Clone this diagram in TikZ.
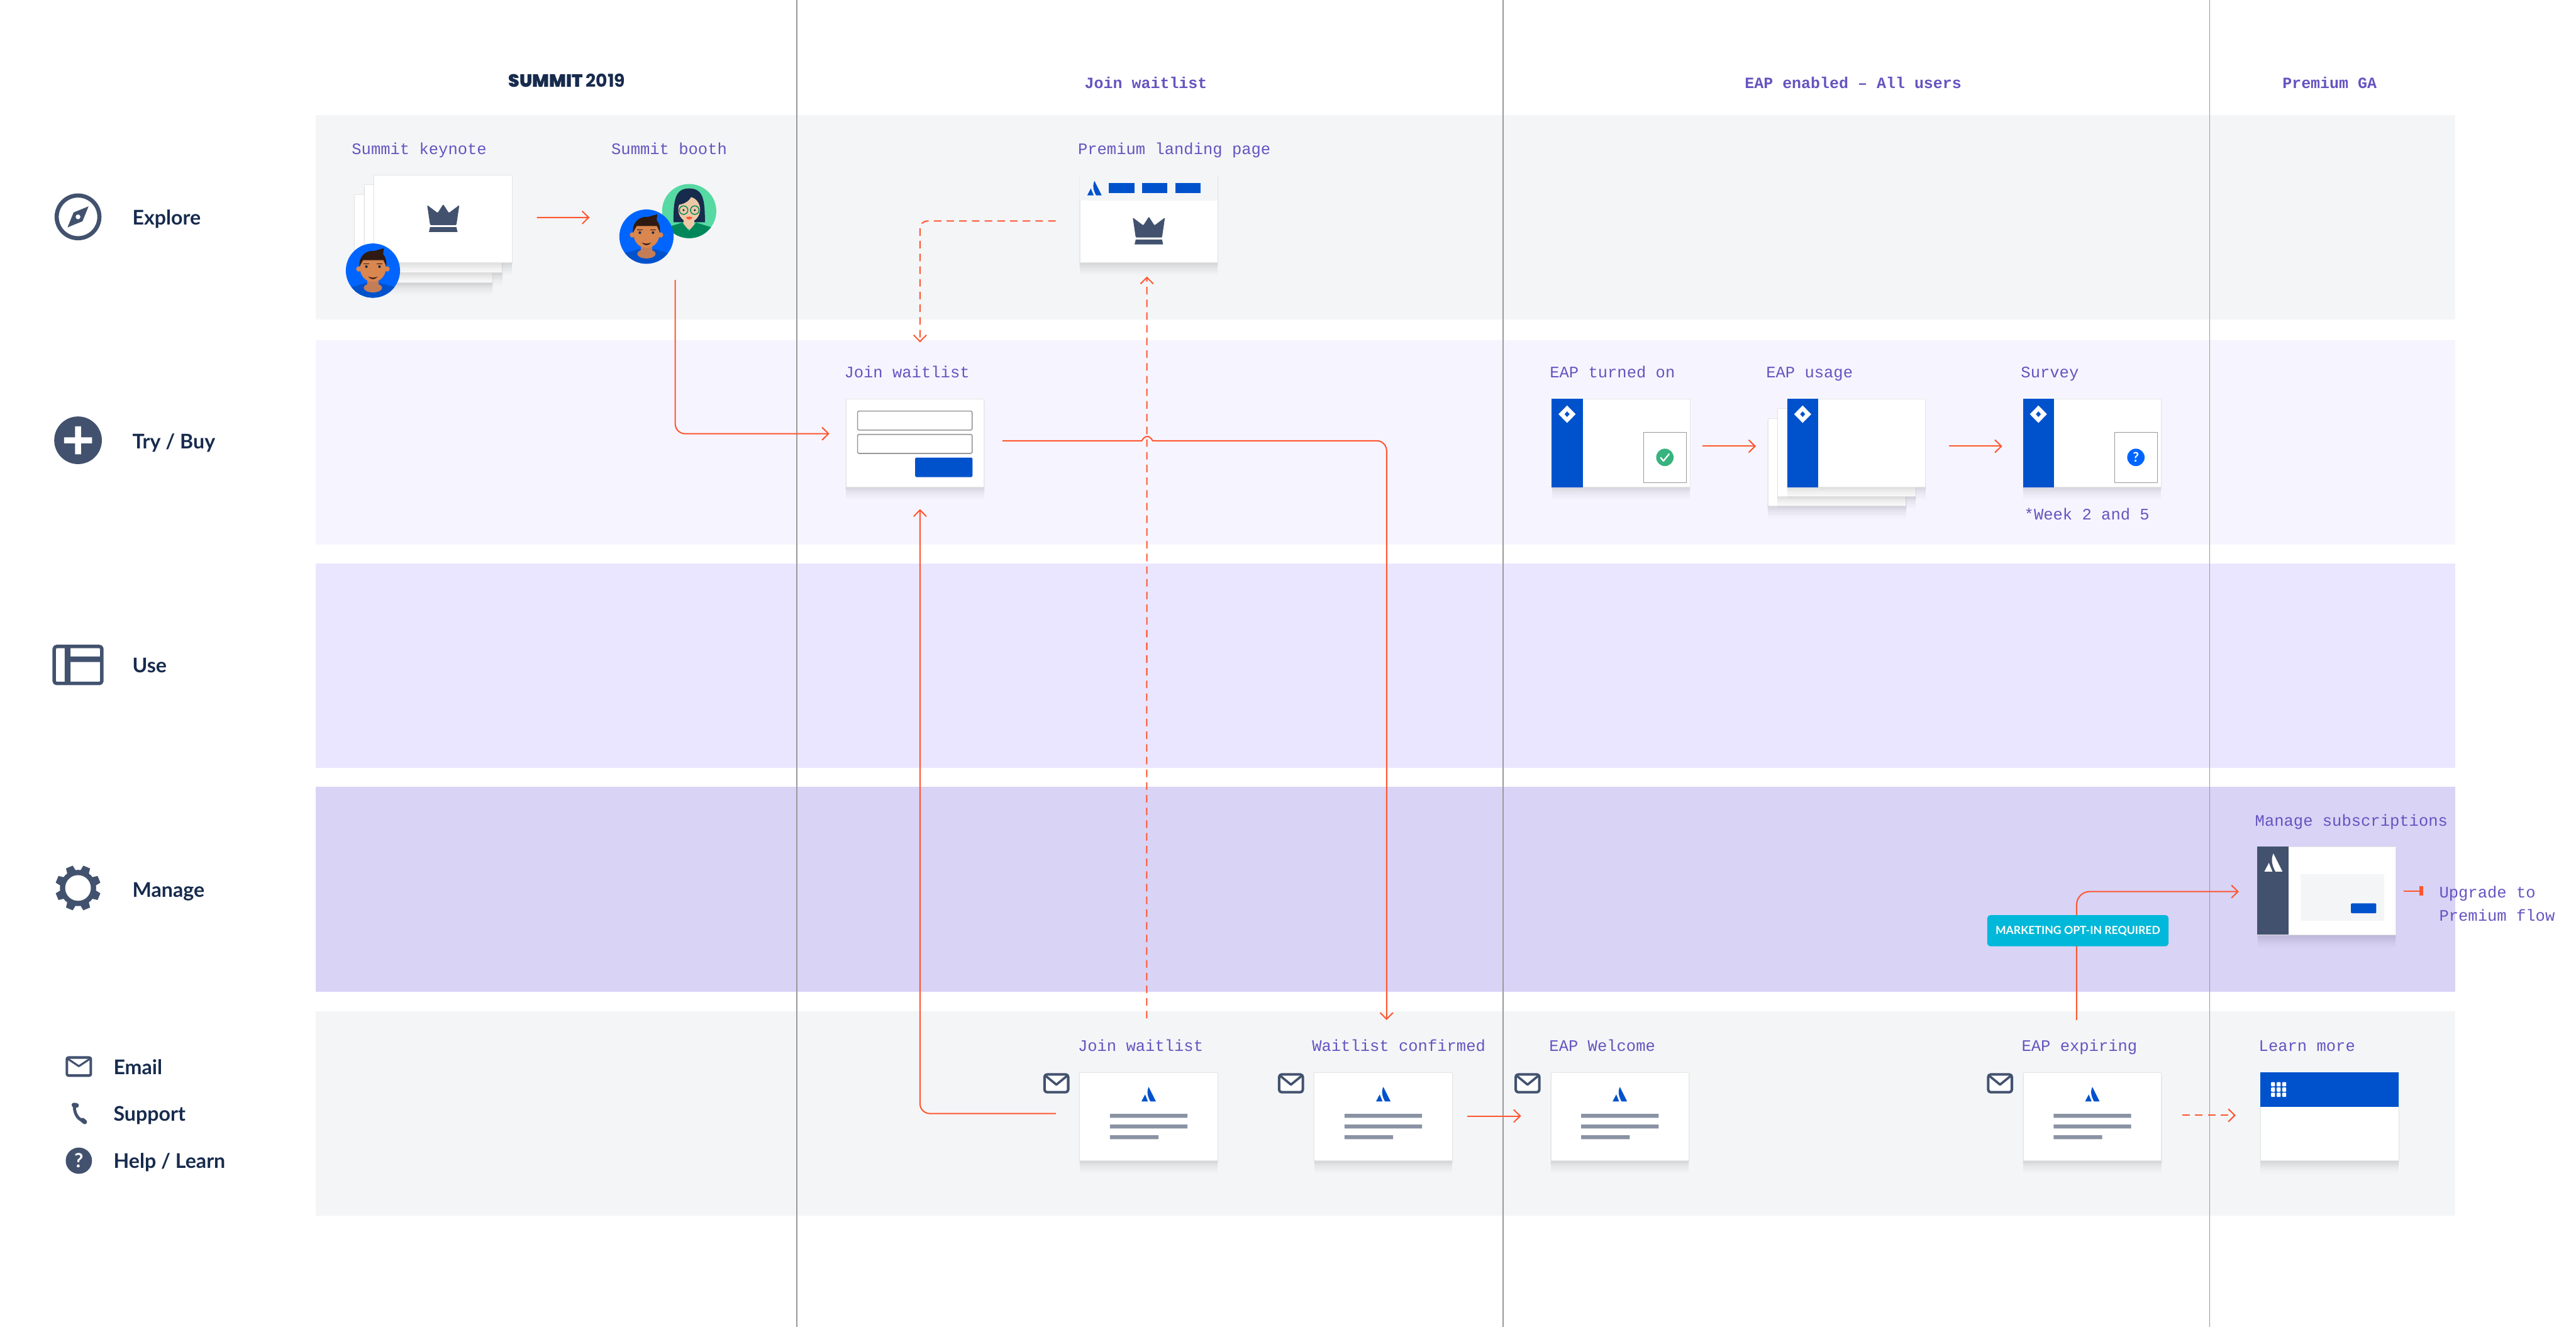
\documentclass[tikz,border=0pt]{standalone}
\usepackage{fontspec}
\setmainfont{Lato}
\newfontfamily\labelfont{Liberation Mono}
\newfontfamily\summitfont{Poppins Black}
\newfontfamily\yearfont{Poppins Bold}
\usetikzlibrary{arrows.meta,shadows}
\def\px{0.05cm}
\definecolor{bandgray}{HTML}{F4F5F7}
\definecolor{bandlav}{HTML}{F6F5FF}
\definecolor{bandlilac}{HTML}{EAE6FF}
\definecolor{bandpurple}{HTML}{D9D3F6}
\definecolor{flowred}{HTML}{FF5630}
\definecolor{flowtext}{HTML}{6554C0}
\definecolor{iconslate}{HTML}{42526E}
\definecolor{inktext}{HTML}{172B4D}
\definecolor{eapblue}{HTML}{0052CC}
\definecolor{avblue}{HTML}{0065FF}
\definecolor{avgreen}{HTML}{57D9A3}
\definecolor{okgreen}{HTML}{36B37E}
\definecolor{pillcyan}{HTML}{00B8D9}
\definecolor{textbar}{HTML}{8993A4}
\definecolor{skinman}{HTML}{D9864F}
\definecolor{neckman}{HTML}{C47D56}
\definecolor{hairman}{HTML}{2E1A12}
\definecolor{skinwoman}{HTML}{ECC9A6}
\definecolor{shirtwoman}{HTML}{00875A}
\tikzset{
	softshadow/.style={drop shadow={shadow xshift=0pt,shadow yshift=-1.5pt,shadow scale=1.012,opacity=.02,fill=black},
		drop shadow={shadow xshift=0pt,shadow yshift=-3pt,shadow scale=1.008,opacity=.025,fill=black},
		drop shadow={shadow xshift=0pt,shadow yshift=-5pt,opacity=.025,fill=black},
		drop shadow={shadow xshift=0pt,shadow yshift=-7pt,opacity=.02,fill=black},
		drop shadow={shadow xshift=0pt,shadow yshift=-9pt,opacity=.015,fill=black},
		drop shadow={shadow xshift=0pt,shadow yshift=-11pt,opacity=.012,fill=black}},
	card/.style={rectangle,fill=white,draw=black!10,line width=.4pt,inner sep=0pt,minimum width=84*\px,minimum height=53.5*\px,softshadow},
	cardtitle/.style={font=\labelfont\fontsize{13.9}{20}\selectfont,text=flowtext,anchor=base west,inner sep=0pt,align=left},
	colhead/.style={font=\labelfont\bfseries\fontsize{13.6}{16}\selectfont,text=flowtext,inner sep=0pt},
	rowname/.style={font=\bfseries\fontsize{17.5}{20}\selectfont,text=inktext,anchor=base west,inner sep=0pt},
	flow/.style={draw=flowred,line width=1.1pt,-{Straight Barb[length=5.6pt,width=11pt]}},
	dashflow/.style={flow,dash pattern=on 6.5pt off 4.5pt},
	pill/.style={rectangle,rounded corners=2*\px,fill=pillcyan,text=white,inner sep=0pt,minimum width=110.4*\px,minimum height=19*\px,font=\bfseries\fontsize{9.6}{11}\selectfont},
	pics/crown/.style={code={
		\fill[iconslate,rounded corners=.5*\px] (-9.8,-8)--(-3.4,-3.2)--(0,-8.5)--(3.4,-3.2)--(9.8,-8)--(8,4.2)--(-8,4.2)--cycle;
		\fill[iconslate] (-8,5.4)--(8,5.4)--(8.7,8.4)--(-8.7,8.4)--cycle;
	}},
	pics/alogo/.style={code={
		\fill[#1] (0,-4.4)--(4.4,4.4)--(1,4.4) .. controls (-.6,1.5) and (-1.4,-1.5) .. cycle;
		\fill[#1] (-2.2,.2)--(-.5,4.4)--(-4.4,4.4)--cycle;
	}},
	pics/diamond/.style={code={
		\fill[white,even odd rule] (0,-5.3)--(5.2,0)--(0,5.3)--(-5.2,0)--cycle (0,-1.8)--(1.6,0)--(0,1.8)--(-1.6,0)--cycle;
	}},
	pics/mailicon/.style={code={
		\draw[iconslate,line width=2.2pt,rounded corners=1.5*\px,fill=white] (-7.2,-5.4) rectangle (7.2,5.4);
		\draw[iconslate,line width=2pt,line join=round] (-6.6,-4.6)--(0,.8)--(6.6,-4.6);
	}},
	pics/maneface/.style={code={
		\clip (0,0) circle[radius=16.5];
		\fill[eapblue] (-17,17)--(-17,11)--(-4,7.5)--(4,7.5)--(17,11)--(17,17)--cycle;
		\fill[eapblue] (0,17) ellipse[x radius=13,y radius=9];
		\fill[neckman] (-3.6,2) rectangle (3.6,10);
		\fill[neckman] (0,10.5) ellipse[x radius=5.6,y radius=2.8];
		\fill[skinman] (-8.6,-1) circle[radius=1.6] (8.6,-1) circle[radius=1.6];
		\fill[skinman] (0,-1.5) ellipse[x radius=7.9,y radius=8.4];
		\fill[hairman] (-8.2,-2.5) .. controls (-8.8,-9) and (-4,-12.5) .. (1,-12) -- (6.6,-13.6) -- (6.2,-10) .. controls (8,-8) and (8.4,-5) .. (8.2,-2.5) -- (6.4,-6.4) -- (-6,-6.4) -- cycle;
		\fill[inktext] (-4,-2.4) circle[radius=.8] (4,-2.4) circle[radius=.8];
		\draw[hairman,line width=.7pt] (-5.6,-4.2)--(-2.4,-4.2) (2.4,-4.2)--(5.6,-4.2);
		\fill[hairman] (-2.8,3.6) .. controls (-1,4.6) and (1,4.6) .. (2.8,3.6) .. controls (1,5.8) and (-1,5.8) .. cycle;
	}},
	pics/womanface/.style={code={
		\clip (0,0) circle[radius=16.5];
		\fill[inktext] (0,-13.8) .. controls (-9,-13.8) and (-9.5,-6) .. (-9.6,6.8) -- (9.6,6.8) .. controls (9.5,-6) and (9,-13.8) .. (0,-13.8);
		\fill[skinwoman] (-3.2,3) rectangle (3.2,11);
		\fill[shirtwoman] (-17,17)--(-14,10)--(-4.2,7)--(0,12)--(4.2,7)--(14,10)--(17,17)--cycle;
		\fill[skinwoman] (0,-1) ellipse[x radius=6.6,y radius=7.6];
		\fill[inktext] (-6.8,-3.8) .. controls (-2,-4.4) and (1,-7) .. (1.5,-10) -- (-5,-9) -- cycle;
		\draw[shirtwoman,line width=.8pt] (-3.4,-.6) circle[radius=2.6] (3.4,-.6) circle[radius=2.6];
		\fill[inktext] (-3.4,-.6) circle[radius=.7] (3.4,-.6) circle[radius=.7];
		\fill[flowred] (-2,3.8) .. controls (-.8,3.2) and (.8,3.2) .. (2,3.8) .. controls (1,5.6) and (-1,5.6) .. cycle;
	}}
}
\begin{document}
\begin{tikzpicture}[x=\px,y=-\px,line join=round]
	\useasboundingbox (0,0) rectangle (1568,807.7);

	\foreach \ypos/\col in {70/bandgray,207/bandlav,343/bandlilac,479/bandpurple,615.5/bandgray}
		\fill[\col] (192,\ypos) rectangle (1494.6,\ypos+124.5);
	\foreach \xpos in {485,915,1345}
		\draw[black!40,line width=1pt] (\xpos,0)--(\xpos,807.7);

	% column heads
	\node[inner sep=0pt,text=inktext] (headsummit) at (345,49) {\summitfont\fontsize{15.4}{16}\selectfont SUMMIT \yearfont 2019};
	\node[colhead] (headjoin) at (697.5,50.5) {Join waitlist};
	\node[colhead] (headeap) at (1128,50.5) {EAP enabled – All users};
	\node[colhead] (headga) at (1418,50.5) {Premium GA};

	% left column
	\node[rowname] (nameexplore) at (80.5,137) {Explore};
	\node[rowname] (nametry) at (80.5,273) {Try / Buy};
	\node[rowname] (nameuse) at (80.5,409.5) {Use};
	\node[rowname] (namemanage) at (80.5,546) {Manage};
	\node[rowname] (nameemail) at (69,654) {Email};
	\node[rowname] (namesupport) at (69,682.5) {Support};
	\node[rowname] (namehelp) at (69,711) {Help / Learn};

	\draw[iconslate,line width=3.6pt] (47.5,132) circle[radius=13];
	\fill[iconslate,even odd rule] (53.9,125.6)--(50.2,134.7)--(41.1,138.4)--(44.8,129.3)--cycle (47.5,132) circle[radius=1.5];
	\fill[iconslate] (47.5,268) circle[radius=14.5];
	\fill[white] (45.7,259.5) rectangle (49.3,276.5) (39,266.2) rectangle (56,269.8);
	\draw[iconslate,line width=3pt,rounded corners=1.5*\px] (33,393.5) rectangle (62,416);
	\fill[iconslate] (39.4,393) rectangle (42.9,416) (41,399.6) rectangle (62,403);
	\begin{scope}[shift={(47.5,540.5)}]
		\fill[iconslate] (0,0) circle[radius=11];
		\foreach \ang in {22.5,67.5,...,337.5}
			\fill[iconslate,rotate=\ang] (9,-3)--(13.8,-2.2)--(13.8,2.2)--(9,3)--cycle;
		\fill[white] (0,0) circle[radius=7.8];
	\end{scope}
	\begin{scope}[shift={(48,649.2)}]
		\draw[iconslate,line width=2.2pt,rounded corners=1*\px] (-7.3,-5.5) rectangle (7.3,5.5);
		\draw[iconslate,line width=1.7pt] (-6.6,-4.6)--(0,-.2)--(6.6,-4.6);
	\end{scope}
	\draw[iconslate,line width=2.6pt,line cap=round] (45.2,673.5) .. controls (45.5,678.5) and (47.5,681.5) .. (51.6,682.6);
	\draw[iconslate,line width=4pt,line cap=round] (45,672.6)--(46.6,672.9) (50.2,681.8)--(51.6,682.9);
	\node[circle,fill=iconslate,minimum size=16*\px,inner sep=0pt,text=white,font=\bfseries\fontsize{17}{17}\selectfont] (helpsign) at (48,706.5) {?};

	% cards
	\node[card] (keynotec) at (257.8,145.2) {};
	\node[card] (keynoteb) at (263.7,139.2) {};
	\node[card] (keynote) at (269.6,133.2) {};
	\node[circle,fill=avblue,minimum size=33*\px,inner sep=0pt] (keynoteman) at (227,164.7) {};
	\pic at (keynoteman) {maneface};
	\node[circle,fill=avgreen,minimum size=33*\px,inner sep=0pt] (boothwoman) at (419.5,128.5) {};
	\pic at (boothwoman) {womanface};
	\node[circle,fill=avblue,minimum size=33*\px,inner sep=0pt] (boothman) at (393.5,144) {};
	\pic at (boothman) {maneface};
	\pic at (269.8,132.8) {crown};

	\node[card] (premium) at (699.3,133.2) {};
	\fill[bandgray] ([shift={(.3,.3)}]premium.north west) rectangle (741.1,122);
	\pic at (666.2,114.5) {alogo=eapblue};
	\foreach \xbar in {675,695,715.3}
		\fill[eapblue] (\xbar,111.4) rectangle (\xbar+15.4,117.4);
	\pic at (699.3,140.4) {crown};

	\node[card] (join) at (557,269.6) {};
	\draw[black!40,line width=.9pt,rounded corners=.7*\px,fill=white] (522,250.2) rectangle (591.7,261.8) (522,264.4) rectangle (591.7,276);
	\fill[eapblue,rounded corners=.7*\px] (557,278.5) rectangle (592,290.4);

	\node[card] (usagec) at (1118.2,281.3) {};
	\node[card] (usageb) at (1124,275.4) {};
	\foreach \nm/\xcen in {eapon/986.6,usage/1130,survey/1273.5}{
		\node[card] (\nm) at (\xcen,269.6) {};
		\fill[eapblue] (\nm.north west) rectangle ([xshift=18.9*\px]\nm.south west);
		\path (\nm.north west) ++(9.4,9.4) pic {diamond};
	}
	\node[rectangle,draw=black!40,fill=white,line width=.5pt,minimum width=26.2*\px,minimum height=30.8*\px,inner sep=0pt] (okbox) at (1013.4,278.4) {};
	\fill[okgreen] (okbox) circle[radius=5.3];
	\draw[white,line width=1.3pt,line cap=round] (1010.9,278.6)--(1012.5,280.6)--(1015.9,276.4);
	\node[rectangle,draw=black!40,fill=white,line width=.5pt,minimum width=26.2*\px,minimum height=30.8*\px,inner sep=0pt] (askbox) at (1300.1,278.4) {};
	\node[circle,fill=avblue,minimum size=10.6*\px,inner sep=0pt,text=white,font=\bfseries\fontsize{11.5}{11.5}\selectfont] (asksign) at (askbox) {?};

	\foreach \nm/\xcen in {mailjoin/699.2,mailconf/842,mailwelcome/986,mailexpire/1273.6}{
		\node[card] (\nm) at (\xcen,679.6) {};
		\pic at (\xcen,666) {alogo=eapblue};
		\fill[textbar] (\xcen-23.6,678) rectangle (\xcen+23.6,680.4) (\xcen-23.6,684.5) rectangle (\xcen+23.6,686.9) (\xcen-23.6,691) rectangle (\xcen+6,693.4);
		\pic at (\xcen-56.2,659.4) {mailicon};
	}
	\node[card] (learn) at (1418,679.7) {};
	\fill[eapblue] (learn.north west) rectangle (1460,673.8);
	\foreach \xdot in {1383.6,1387,1390.4}
		\foreach \ydot in {660,663.2,666.4}
			\fill[white,rounded corners=.4*\px] (\xdot-1.2,\ydot-1.3) rectangle (\xdot+1.2,\ydot+1.3);

	\node[card] (subs) at (1416.2,542.3) {};
	\fill[iconslate] (subs.north west) rectangle (1393.2,568.9);
	\pic[scale=1.25] at (1383.8,525) {alogo=white};
	\fill[bandgray] (1400.3,532.2) rectangle (1451.3,560.6);
	\fill[eapblue,rounded corners=.5*\px] (1431,549.9) rectangle (1446.4,555.9);

	% connectors
	\draw[flow] ([shift={(15,-.8)}]keynote.east)--([shift={(-18,-11.6)}]boothman.west);
	\draw[flow,rounded corners=6*\px] ([shift={(17.5,9.8)}]boothman.south) |- ([shift={(-10,-5.6)}]join.west);
	\draw[dashflow,rounded corners=4.5*\px] ([shift={(-14.6,1.3)}]premium.west) -| ([shift={(3,-34.3)}]join.north);
	\draw[dashflow] ([shift={(-1.2,-32.8)}]mailjoin.north)--([shift={(-1.2,8.2)}]premium.south);
	\draw[flow,rounded corners=6*\px] ([shift={(-14.4,-1.8)}]mailjoin.west) -| ([shift={(3,13.4)}]join.south);
	\coordinate (hopleft) at (695,268.3);
	\coordinate (hopright) at (701.6,268.3);
	\draw[flow] ([shift={(11,-1.3)}]join.east)--(hopleft) .. controls (696.8,265) and (699.6,264.6) .. (hopright) [rounded corners=6*\px] --(844,268.3)--([shift={(2,-31.8)}]mailconf.north);
	\draw[flow] ([shift={(7.4,2)}]eapon.east)--([shift={(-7.2,-9.7)}]usagec.west);
	\draw[flow] ([shift={(14,2)}]usage.east)--([shift={(-12.6,2)}]survey.west);
	\draw[flow] ([shift={(9,-.3)}]mailconf.east)--([shift={(-18,-.3)}]mailwelcome.west);
	\draw[dashflow] ([shift={(12.7,-.7)}]mailexpire.east)--([shift={(-15,-.8)}]learn.west);
	\draw[flow,rounded corners=8*\px] ([shift={(-9.6,-31.8)}]mailexpire.north) |- ([shift={(-11.3,.4)}]subs.west);
	\draw[draw=flowred,line width=1.1pt,-{Rectangle[length=3.6pt,width=8.5pt]}] ([xshift=4.6*\px]subs.east)--([xshift=16.8*\px]subs.east);
	\node[pill] (optin) at (1264.8,566.5) {MARKETING OPT-IN REQUIRED};

	% card titles
	\node[cardtitle] (tkeynote) at (214,94) {Summit keynote};
	\node[cardtitle] (tbooth) at (372,94) {Summit booth};
	\node[cardtitle] (tpremium) at (656,94) {Premium landing page};
	\node[cardtitle] (tjoin) at (513.8,230) {Join waitlist};
	\node[cardtitle] (teapon) at (943.2,230) {EAP turned on};
	\node[cardtitle] (tusage) at (1074.9,230) {EAP usage};
	\node[cardtitle] (tsurvey) at (1230,230) {Survey};
	\node[cardtitle] (tweek) at (1232,316.5) {*Week 2 and 5};
	\node[cardtitle] (tsubs) at (1372.5,503) {Manage subscriptions};
	\node[cardtitle] (tupgrade) at (1484.6,560.5) {Upgrade to\\Premium flow};
	\node[cardtitle] (tmailjoin) at (656,640) {Join waitlist};
	\node[cardtitle] (tmailconf) at (798.5,640) {Waitlist confirmed};
	\node[cardtitle] (tmailwelcome) at (942.9,640) {EAP Welcome};
	\node[cardtitle] (tmailexpire) at (1230.4,640) {EAP expiring};
	\node[cardtitle] (tlearn) at (1374.8,640) {Learn more};
\end{tikzpicture}
\end{document}
